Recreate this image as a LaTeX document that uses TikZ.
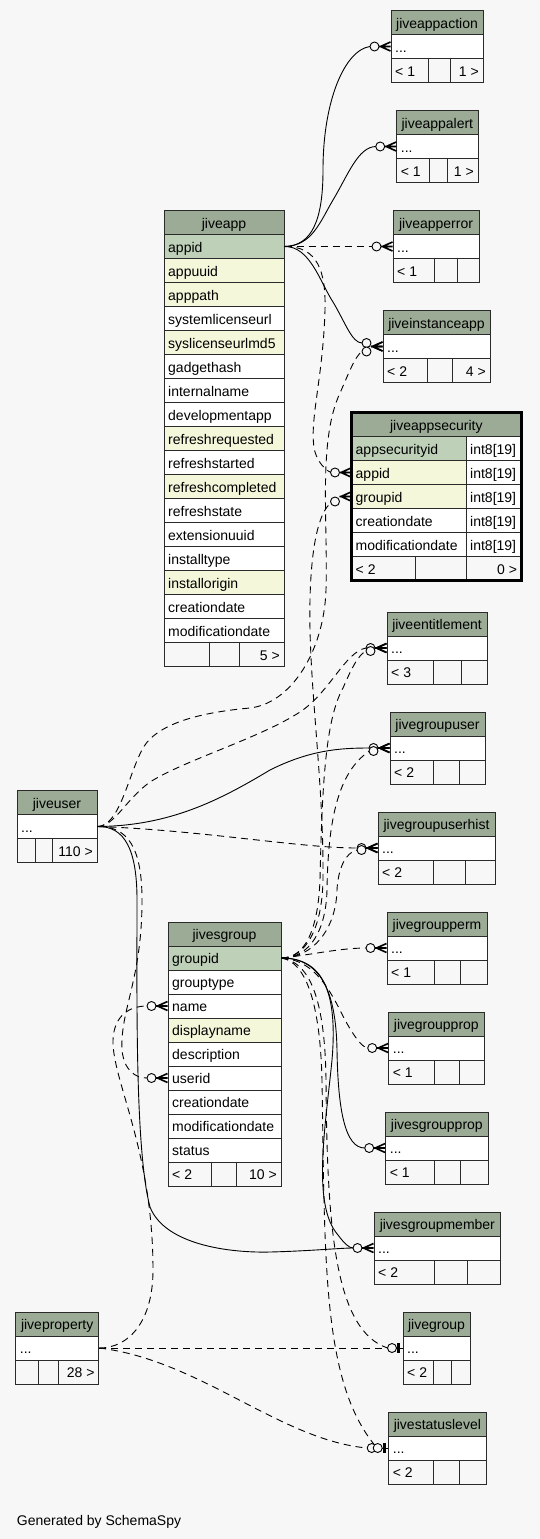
\documentclass[tikz,border=0pt]{standalone}
\usepackage{fontspec}
\setmainfont{Liberation Sans}
\usetikzlibrary{fit,calc}
\definecolor{bgc}{HTML}{F7F7F7}
\definecolor{hdrc}{HTML}{9BAB96}
\definecolor{pkc}{HTML}{BED1B8}
\definecolor{idxc}{HTML}{F4F7DA}
\definecolor{linec}{HTML}{2A2A2A}
\tikzset{
  cellbox/.style={draw=linec, line width=1pt, inner sep=0pt},
  txt/.style={inner sep=0pt, font=\fontsize{14}{16}\selectfont, text=black},
  fk/.style={draw=black, line width=0.9pt},
  imp/.style={fk, dash pattern=on 7pt off 5pt},
}
\newcommand{\cellat}[6]{\node[cellbox, fill=#6, fit={(#2,#3)(#4,#5)}] (#1) {};}
\newcommand{\hdr}[5]{%
  \cellat{#1}{#2}{#4}{#3}{#4+24}{hdrc}
  \node[txt, anchor=base] (#1-t) at ({(#2+#3)/2},#4+17.5) {#5};}
\newcommand{\rowc}[6]{%
  \cellat{#1}{#2}{#4}{#3}{#4+24}{#5}
  \node[txt, anchor=base west] (#1-t) at (#2+4,#4+17.5) {#6};}
\newcommand{\foot}[8]{%
  \cellat{#1-a}{#2}{#6}{#3}{#6+24}{bgc}
  \cellat{#1-b}{#3}{#6}{#4}{#6+24}{bgc}
  \cellat{#1-c}{#4}{#6}{#5}{#6+24}{bgc}
  \node[txt, anchor=base west] (#1-l) at (#2+4,#6+17.5) {#7};
  \node[txt, anchor=base east] (#1-r) at (#5-4,#6+17.5) {#8};}
\newcommand{\smalltbl}[9]{%
  \hdr{#1-h}{#2}{#5}{#6}{#7}
  \rowc{#1-r}{#2}{#5}{#6+24}{white}{...}
  \foot{#1-f}{#2}{#3}{#4}{#5}{#6+48}{#8}{#9}}
\newcommand{\crowodot}[2]{%
  \begin{scope}[shift={(#1.west)}]
    \draw[fk, line width=1.6pt, line join=miter] (0,-4.5) -- (-10,0) -- (0,4.5) (-11.5,0) -- (0,0);
    \draw[fk, fill=bgc] (-16,#2) circle (4.5pt);
  \end{scope}}
\newcommand{\teeodot}[2]{%
  \begin{scope}[shift={(#1.west)}]
    \draw[fk] (#2,0) -- (0,0);
    \draw[black, line width=3pt] (-4,-5) -- (-4,5);
    \draw[fk, fill=bgc] (#2,0) circle (4.5pt);
  \end{scope}}
\begin{document}
\begin{tikzpicture}[x=1pt,y=-1pt]
\useasboundingbox (0,0) rectangle (540,1539);
\fill[bgc] (0,0) rectangle (540,1539);

% ---------- tables ----------
\smalltbl{appaction}{391}{428}{450}{483}{10.5}{jiveappaction}{< 1}{1 >}
\smalltbl{appalert}{396.7}{429}{447}{478}{110.5}{jiveappalert}{< 1}{1 >}
\smalltbl{apperror}{393}{434}{457}{479}{210.5}{jiveapperror}{< 1}{}
\smalltbl{instanceapp}{383}{427}{452.7}{490}{310.5}{jiveinstanceapp}{< 2}{4 >}
\smalltbl{ent}{387}{433}{461}{487}{612}{jiveentitlement}{< 3}{}
\smalltbl{gu}{390}{433}{459}{485}{712}{jivegroupuser}{< 2}{}
\smalltbl{guh}{378}{433}{465}{495}{812}{jivegroupuserhist}{< 2}{}
\smalltbl{user}{17}{35}{52}{97}{790.5}{jiveuser}{}{110 >}
\smalltbl{gperm}{387}{434}{460.7}{487}{912}{jivegroupperm}{< 1}{}
\smalltbl{gprop}{388.7}{434}{459}{484}{1012}{jivegroupprop}{< 1}{}
\smalltbl{sgp}{385.7}{434}{460.7}{488}{1112}{jivesgroupprop}{< 1}{}
\smalltbl{sgm}{374}{434}{467}{500.7}{1212}{jivesgroupmember}{< 2}{}
\smalltbl{prop}{15.7}{38.7}{58.7}{98.7}{1312}{jiveproperty}{}{28 >}
\smalltbl{grp}{403}{433}{451}{470}{1312}{jivegroup}{< 2}{}
\smalltbl{sl}{388.7}{433}{459}{486}{1412}{jivestatuslevel}{< 2}{}

% jiveapp
\hdr{app-h}{164}{284}{210.5}{jiveapp}
\foreach \t/\f [count=\i from 0] in {appid/pkc, appuuid/idxc, apppath/idxc, systemlicenseurl/white, syslicenseurlmd5/idxc, gadgethash/white, internalname/white, developmentapp/white, refreshrequested/idxc, refreshstarted/white, refreshcompleted/idxc, refreshstate/white, extensionuuid/white, installtype/white, installorigin/idxc, creationdate/white, modificationdate/white}
  {\rowc{app-\t}{164}{284}{234.5+24*\i}{\f}{\t}}
\foot{app-f}{164}{209}{239}{284}{642.5}{}{5 >}

% jivesgroup
\hdr{sg-h}{168}{281}{922}{jivesgroup}
\foreach \t/\f [count=\i from 0] in {groupid/pkc, grouptype/white, name/white, displayname/idxc, description/white, userid/white, creationdate/white, modificationdate/white, status/white}
  {\rowc{sg-\t}{168}{281}{946+24*\i}{\f}{\t}}
\foot{sg-f}{168}{211.7}{236}{281}{1162}{< 2}{10 >}

% jiveappsecurity
\hdr{sec-h}{351.5}{521.2}{412.5}{jiveappsecurity}
\foreach \t/\f [count=\i from 0] in {appsecurityid/pkc, appid/idxc, groupid/idxc, creationdate/white, modificationdate/white}
  {\rowc{sec-\t}{351.5}{466}{436.5+24*\i}{\f}{\t}
   \rowc{sec-\t-ty}{466}{521.2}{436.5+24*\i}{white}{int8[19]}}
\foot{sec-f}{351.5}{415}{466}{521.2}{556.5}{< 2}{0 >}
\node[draw=black, line width=3pt, inner sep=0pt, fit={(351.5,412.5)(521.2,580.5)}] (sec-frame) {};

% ---------- connectors ----------
% from jiveapp.appid
\draw[fk] (app-appid.east) .. controls (312,246) and (323,220) .. (323,170) .. controls (323,100) and (345,50) .. ([xshift=-20.5pt]appaction-r.west);
\draw[fk] (app-appid.east) .. controls (312,246) and (320,222) .. (333,200) .. controls (348,175) and (358,147) .. ([xshift=-20.5pt]appalert-r.west);
\draw[imp] (app-appid.east) -- ([xshift=-20.5pt]apperror-r.west);
\draw[fk] (app-appid.east) .. controls (310,246) and (320,282) .. (333,302) .. controls (345,322) and (352,343) .. ($(instanceapp-r.west)+(-20.5,-3.5)$);
\draw[imp] (app-appid.east) .. controls (318,246) and (326,272) .. (325,310) .. controls (323,380) and (308,425) .. (315,452) .. controls (318,462) and (325,470) .. ($(sec-appid.west)+(-20,0)$);

% from jiveuser
\draw[imp] (user-r.east) .. controls (120,826) and (128,775) .. (143,748) .. controls (158,722) and (205,712) .. (250,708) .. controls (292,703) and (324,650) .. (326,590) .. controls (328,520) and (318,440) .. (340,393) .. controls (348,375) and (355,356) .. ($(instanceapp-r.west)+(-20.5,5)$);
\draw[imp] (user-r.east) .. controls (115,826) and (125,800) .. (150,782) .. controls (185,760) and (260,738) .. (300,712) .. controls (330,692) and (345,652) .. ([xshift=-20.5pt]ent-r.west);
\draw[fk] (user-r.east) .. controls (170,826) and (220,800) .. (270,770) .. controls (310,750) and (340,748) .. ([xshift=-20.5pt]gu-r.west);
\draw[imp] (user-r.east) .. controls (200,830) and (300,848) .. ([xshift=-20.5pt]guh-r.west);
\draw[fk] (user-r.east) .. controls (125,826) and (137,850) .. (137,900) .. controls (137,1000) and (135,1150) .. (150,1207) .. controls (165,1245) and (230,1253) .. (270,1252) .. controls (310,1251) and (340,1248) .. ([xshift=-20.5pt]sgm-r.west);
\draw[imp] (user-r.east) .. controls (128,826) and (142,848) .. (142,900) .. controls (142,980) and (120,1010) .. (122,1050) .. controls (124,1070) and (135,1078) .. ([xshift=-20.5pt]sg-userid.west);

% from jiveproperty
\draw[imp] (prop-r.east) .. controls (130,1348) and (153,1320) .. (153,1270) .. controls (153,1150) and (112,1080) .. (113,1040) .. controls (114,1015) and (130,1006) .. ([xshift=-20.5pt]sg-name.west);
\draw[imp] (prop-r.east) -- ([xshift=-15pt]grp-r.west);
\draw[imp] (prop-r.east) .. controls (200,1360) and (280,1440) .. ([xshift=-21pt]sl-r.west);

% from jivesgroup.groupid
\draw[imp] (sg-groupid.east) .. controls (305,958) and (322,930) .. (323,880) .. controls (324,780) and (308,680) .. (310,600) .. controls (311,550) and (318,512) .. ($(sec-groupid.west)+(-19.5,6)$);
\draw[imp] (sg-groupid.east) .. controls (305,958) and (318,930) .. (320,880) .. controls (322,790) and (325,720) .. (343,688) .. controls (350,672) and (358,654) .. ($(ent-r.west)+(-20,3)$);
\draw[imp] (sg-groupid.east) .. controls (310,958) and (326,930) .. (327,890) .. controls (328,820) and (338,772) .. ($(gu-r.west)+(-20,3)$);
\draw[imp] (sg-groupid.east) .. controls (312,958) and (336,930) .. (337,890) .. controls (338,870) and (345,852) .. ($(guh-r.west)+(-20,2)$);
\draw[imp] (sg-groupid.east) .. controls (310,955) and (340,948) .. ([xshift=-20.5pt]gperm-r.west);
\draw[imp] (sg-groupid.east) .. controls (315,960) and (330,990) .. (345,1020) .. controls (355,1038) and (362,1047) .. ([xshift=-20.5pt]gprop-r.west);
\draw[fk] (sg-groupid.east) .. controls (320,958) and (336,990) .. (337,1050) .. controls (338,1110) and (345,1148) .. ([xshift=-20.5pt]sgp-r.west);
\draw[fk] (sg-groupid.east) .. controls (322,958) and (338,990) .. (332,1060) .. controls (325,1130) and (312,1205) .. (338,1235) .. controls (344,1243) and (349,1248) .. ([xshift=-20.5pt]sgm-r.west);
\draw[imp] (sg-groupid.east) .. controls (310,962) and (325,1000) .. (326,1080) .. controls (327,1230) and (335,1330) .. ([xshift=-15pt]grp-r.west);
\draw[imp] (sg-groupid.east) .. controls (305,962) and (320,1000) .. (322,1080) .. controls (325,1260) and (322,1380) .. ($(sl-r.west)+(-14,-3.5)$);

% ---------- connector ends ----------
\crowodot{appaction-r}{0}
\crowodot{appalert-r}{0}
\crowodot{apperror-r}{0}
\crowodot{instanceapp-r}{-3.5}
\crowodot{instanceapp-r}{5}
\crowodot{sec-appid}{0}
\crowodot{sec-groupid}{5}
\crowodot{ent-r}{0}
\crowodot{ent-r}{3}
\crowodot{gu-r}{0}
\crowodot{gu-r}{3}
\crowodot{guh-r}{0}
\crowodot{guh-r}{2}
\crowodot{gperm-r}{0}
\crowodot{gprop-r}{0}
\crowodot{sgp-r}{0}
\crowodot{sgm-r}{0}
\crowodot{sg-name}{0}
\crowodot{sg-userid}{0}
\teeodot{grp-r}{-10.5}
\teeodot{sl-r}{-16.5}
\teeodot{sl-r}{-10.5}

\node[txt, anchor=base west] (credit) at (16.7,1525) {Generated by SchemaSpy};
\end{tikzpicture}
\end{document}
